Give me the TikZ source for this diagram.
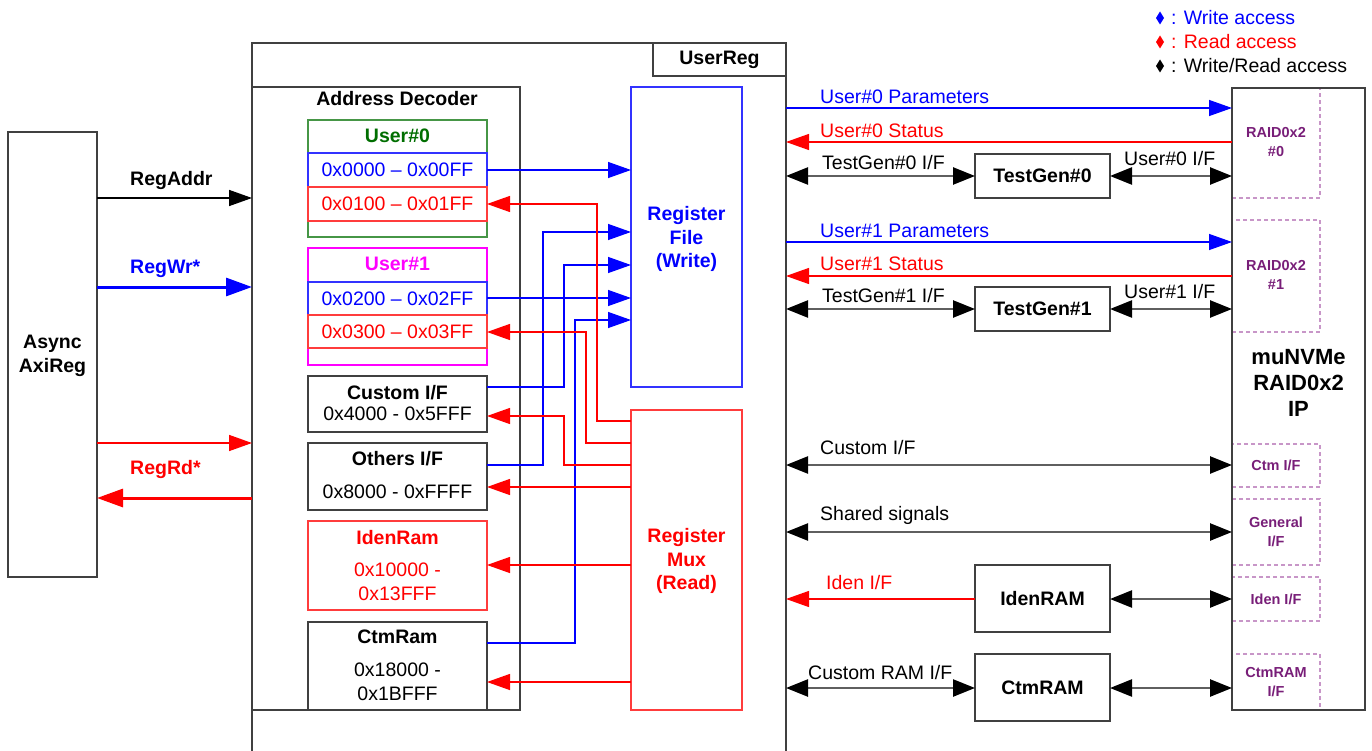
\documentclass[tikz,border=0pt]{standalone}
\usepackage{fontspec}
\setmainfont{Liberation Sans}
\usetikzlibrary{arrows.meta,calc}
\definecolor{bgray}{RGB}{64,64,64}
\definecolor{lgray}{RGB}{95,95,95}
\definecolor{bl}{RGB}{0,0,255}
\definecolor{blb}{RGB}{50,50,255}
\definecolor{rd}{RGB}{255,0,0}
\definecolor{rdb}{RGB}{255,60,60}
\definecolor{grb}{RGB}{70,150,70}
\definecolor{grt}{RGB}{0,110,0}
\definecolor{mg}{RGB}{255,0,255}
\definecolor{pt}{RGB}{120,30,120}
\definecolor{pd}{RGB}{200,150,200}
\newcommand\bx[6]{\node[#6, anchor=north west, minimum width=#4pt-#2pt, minimum height=#5pt-#3pt] (#1) at (#2,#3) {};}
\tikzset{
  tipM/.tip={Triangle[length=23pt,width=16pt]},
  tipW/.tip={Triangle[length=26pt,width=18pt]},
  tipK/.tip={Triangle[length=22pt,width=17pt,color=black]},
  boxg/.style={draw=bgray, line width=1.5pt, inner sep=0pt, outer sep=0pt},
  boxb/.style={draw=blb, line width=1.5pt, inner sep=0pt, outer sep=0pt},
  boxr/.style={draw=rdb, line width=1.5pt, inner sep=0pt, outer sep=0pt},
  boxgr/.style={draw=grb, line width=1.5pt, inner sep=0pt, outer sep=0pt},
  boxm/.style={draw=mg, line width=1.5pt, inner sep=0pt, outer sep=0pt},
  boxd/.style={draw=pd, line width=1.3pt, dash pattern=on 4pt off 3pt, inner sep=0pt, outer sep=0pt},
  fR/.style={font=\fontsize{19.5}{23.5}\selectfont},
  fB/.style={font=\fontsize{19.5}{23.5}\selectfont\bfseries},
  fS/.style={font=\fontsize{14.5}{18.5}\selectfont\bfseries},
  fL/.style={font=\fontsize{22}{26}\selectfont\bfseries},
  lt/.style={inner sep=0pt, anchor=west, fR},
  ct/.style={inner sep=0pt, align=center},
  wr/.style={draw=bl, line width=1.3pt, -tipM},
  rdl/.style={draw=rd, line width=1.3pt, -tipM},
  bi/.style={draw=lgray, line width=2.5pt, tipK-tipK},
}
\begin{document}
\begin{tikzpicture}[x=1pt,y=-1pt]
\path[use as bounding box] (0,0) rectangle (1372,751);
% UserReg frame
\draw[draw=bgray, line width=1.5pt] (252,751) -- (252,43) -- (786,43) -- (786,751);
\coordinate (urR) at (786,0);
\bx{urlab}{653}{43}{786}{76}{boxg}
\node[ct, fB] at (urlab.center) {UserReg};
% Async AxiReg
\bx{axi}{8}{132}{97}{577}{boxg}
\node[ct, fB] at (52.5,356) {Async\\AxiReg};
% Address decoder
\bx{ad}{252}{87}{520}{710}{boxg}
\node[ct, fB] at (397,99) {Address Decoder};
\bx{u0}{308}{120}{487}{237}{boxgr}
\node[ct, fB, text=grt] at (397.5,136) {User\#0};
\bx{u0w}{308}{153}{487}{187}{boxb}
\node[ct, fR, text=bl] at (u0w.center) {0x0000 -- 0x00FF};
\bx{u0r}{308}{187}{487}{221}{boxr}
\node[ct, fR, text=rd] at (u0r.center) {0x0100 -- 0x01FF};
\bx{u1}{308}{248}{487}{365}{boxm}
\node[ct, fB, text=mg] at (397.5,264) {User\#1};
\bx{u1w}{308}{282}{487}{315}{boxb}
\node[ct, fR, text=bl] at (u1w.center) {0x0200 -- 0x02FF};
\bx{u1r}{308}{315}{487}{348}{boxr}
\node[ct, fR, text=rd] at (u1r.center) {0x0300 -- 0x03FF};
\bx{cif}{308}{376}{487}{432}{boxg}
\node[ct, fB] at (397.5,393) {Custom I/F};
\node[ct, fR] at (397.5,414) {0x4000 - 0x5FFF};
\bx{oif}{308}{443}{487}{510}{boxg}
\node[ct, fB] at (397.5,459) {Others I/F};
\node[ct, fR] at (397.5,492) {0x8000 - 0xFFFF};
\bx{iram}{308}{521}{487}{610}{boxr}
\node[ct, fB, text=rd] at (397.5,538) {IdenRam};
\node[ct, fR, text=rd] at (397.5,582) {0x10000 -\\0x13FFF};
\bx{cram}{308}{622}{487}{710}{boxg}
\node[ct, fB] at (397.5,637) {CtmRam};
\node[ct, fR] at (397.5,682) {0x18000 -\\0x1BFFF};
% Register file / mux
\bx{rf}{631}{87}{742}{387}{boxb}
\node[ct, fB, text=bl] at (686.5,239) {Register\\File\\(Write)};
\bx{rm}{631}{410}{742}{710}{boxr}
\node[ct, fB, text=rd] at (686.5,561) {Register\\Mux\\(Read)};
% left connections
\draw[draw=black, line width=1.5pt, -tipM] (axi.east |- 0,198) -- (ad.west |- 0,198);
\node[lt, fB] at (130,181) {RegAddr};
\draw[draw=bl, line width=3pt, -tipW] (axi.east |- 0,287) -- (ad.west |- 0,287);
\node[lt, fB, text=bl] at (130,269) {RegWr*};
\draw[rdl, line width=1.5pt] (axi.east |- 0,443) -- (ad.west |- 0,443);
\draw[draw=rd, line width=3pt, -tipW] (ad.west |- 0,498) -- (axi.east |- 0,498);
\node[lt, fB, text=rd] at (130,469) {RegRd*};
% write connections
\draw[wr] (u0w.east |- 0,170) -- (rf.west |- 0,170);
\draw[wr] (oif.east |- 0,465) -| (543,232) -- (rf.west |- 0,232);
\draw[wr] (cif.east |- 0,387) -| (564,265) -- (rf.west |- 0,265);
\draw[wr] (u1w.east |- 0,298) -- (rf.west |- 0,298);
\draw[wr] (cram.east |- 0,643) -| (575,320) -- (rf.west |- 0,320);
% read connections
\draw[rdl] (rm.west |- 0,421) -| (597,204) -- (u0r.east |- 0,204);
\draw[rdl] (rm.west |- 0,443) -| (586,332) -- (u1r.east |- 0,332);
\draw[rdl] (rm.west |- 0,465) -| (564,416) -- (cif.east |- 0,416);
\draw[rdl] (rm.west |- 0,487) -- (oif.east |- 0,487);
\draw[rdl] (rm.west |- 0,565) -- (iram.east |- 0,565);
\draw[rdl] (rm.west |- 0,682) -- (cram.east |- 0,682);
% legend
\fill[bl] (1160,11.5) -- (1164,18) -- (1160,24.5) -- (1156,18) -- cycle;
\node[lt, text=bl] at (1171,18) {: Write access};
\fill[rd] (1160,35.5) -- (1164,42) -- (1160,48.5) -- (1156,42) -- cycle;
\node[lt, text=rd] at (1171,42) {: Read access};
\fill[black] (1160,59.5) -- (1164,66) -- (1160,72.5) -- (1156,66) -- cycle;
\node[lt] at (1171,66) {: Write/Read access};
% muNVMe sub-interfaces (dashed) then the IP box on top
\bx{d0}{1232}{88}{1320}{198}{boxd}
\bx{d1}{1232}{220}{1320}{332}{boxd}
\bx{dc}{1232}{444}{1320}{487}{boxd}
\bx{dg}{1232}{499}{1320}{565}{boxd}
\bx{di}{1232}{577}{1320}{621}{boxd}
\bx{dr}{1232}{654}{1320}{710}{boxd}
\bx{nv}{1232}{88}{1365}{710}{boxg}
\node[ct, fL] at (1298.5,383) {muNVMe\\RAID0x2\\IP};
\node[ct, fS, text=pt] at (1276,142) {RAID0x2\\\#0};
\node[ct, fS, text=pt] at (1276,275) {RAID0x2\\\#1};
\node[ct, fS, text=pt] at (dc.center) {Ctm I/F};
\node[ct, fS, text=pt] at (dg.center) {General\\I/F};
\node[ct, fS, text=pt] at (di.center) {Iden I/F};
\node[ct, fS, text=pt] at (1276,682) {CtmRAM\\I/F};
% test gens and rams
\bx{tg0}{975}{154}{1110}{198}{boxg}
\node[ct, fB] at (tg0.center) {TestGen\#0};
\bx{tg1}{975}{287}{1110}{331}{boxg}
\node[ct, fB] at (tg1.center) {TestGen\#1};
\bx{iden}{975}{565}{1110}{632}{boxg}
\node[ct, fB] at (iden.center) {IdenRAM};
\bx{ctm}{975}{654}{1110}{721}{boxg}
\node[ct, fB] at (ctm.center) {CtmRAM};
% right connections
\draw[wr] (urR |- 0,108) -- (nv.west |- 0,108);
\node[lt, text=bl] at (820,97) {User\#0 Parameters};
\draw[rdl] (nv.west |- 0,142) -- (urR |- 0,142);
\node[lt, text=rd] at (820,131) {User\#0 Status};
\draw[bi] (urR |- 0,176) -- (tg0.west |- 0,176);
\node[lt] at (822,163) {TestGen\#0 I/F};
\draw[bi] (tg0.east |- 0,176) -- (nv.west |- 0,176);
\node[lt] at (1124,159) {User\#0 I/F};
\draw[wr] (urR |- 0,242) -- (nv.west |- 0,242);
\node[lt, text=bl] at (820,231) {User\#1 Parameters};
\draw[rdl] (nv.west |- 0,276) -- (urR |- 0,276);
\node[lt, text=rd] at (820,264) {User\#1 Status};
\draw[bi] (urR |- 0,309) -- (tg1.west |- 0,309);
\node[lt] at (822,296) {TestGen\#1 I/F};
\draw[bi] (tg1.east |- 0,309) -- (nv.west |- 0,309);
\node[lt] at (1124,292) {User\#1 I/F};
\draw[bi] (urR |- 0,465) -- (dc.west |- 0,465);
\node[lt] at (820,448) {Custom I/F};
\draw[bi] (urR |- 0,532) -- (dg.west |- 0,532);
\node[lt] at (820,515) {Shared signals};
\draw[rdl] (iden.west |- 0,599) -- (urR |- 0,599);
\node[lt, text=rd] at (826,583) {Iden I/F};
\draw[bi] (iden.east |- 0,599) -- (di.west |- 0,599);
\draw[bi] (urR |- 0,688) -- (ctm.west |- 0,688);
\node[lt] at (808,673) {Custom RAM I/F};
\draw[bi] (ctm.east |- 0,688) -- (nv.west |- 0,688);
\end{tikzpicture}
\end{document}
